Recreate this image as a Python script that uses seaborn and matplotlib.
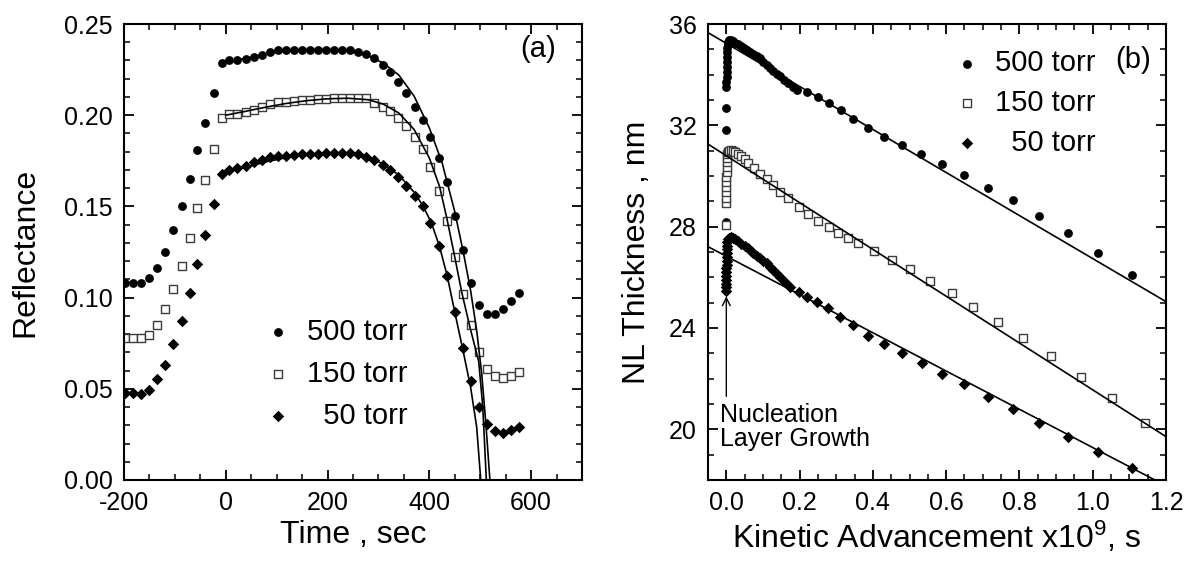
import matplotlib
matplotlib.use("Agg")
import matplotlib.pyplot as plt
import seaborn as sns
from matplotlib.ticker import MultipleLocator, FormatStrFormatter

# ---------------- data: panel (a) ----------------
time_s = [-198, -182, -166, -150, -135, -119, -103, -87, -71, -56, -40, -24,
          -8, 7, 23, 39, 55, 71, 86, 102, 118, 134, 150, 165, 181, 197, 213,
          229, 244, 260, 276, 292, 308, 323, 339, 355, 371, 387, 402, 418, 434,
          450, 466, 481, 497, 513, 529, 545, 560, 576]
refl_500 = [0.108, 0.108, 0.108, 0.111, 0.116, 0.125, 0.137, 0.150, 0.165, 0.181, 0.196, 0.212,
            0.2285, 0.2300, 0.2300, 0.2307, 0.2318, 0.2331, 0.2344, 0.2355, 0.2360, 0.2357,
            0.2357, 0.2358, 0.2360, 0.2360, 0.2360, 0.2358, 0.2356, 0.2349, 0.2335, 0.2312,
            0.2276, 0.2239, 0.2184, 0.2120, 0.2046, 0.1972, 0.1880, 0.1765, 0.1632, 0.1448,
            0.1262, 0.1078, 0.0960, 0.0911, 0.0910, 0.0940, 0.0980, 0.1026]
refl_150 = [0.0778, 0.0778, 0.0778, 0.0796, 0.0851, 0.0938, 0.1048, 0.1173, 0.1329, 0.1491,
            0.1645, 0.1816, 0.1982, 0.2006, 0.2009, 0.2018, 0.2031, 0.2046, 0.2059, 0.2070,
            0.2075, 0.2079, 0.2083, 0.2086, 0.2088, 0.2090, 0.2093, 0.2095, 0.2095, 0.2094,
            0.2092, 0.2068, 0.2046, 0.2022, 0.1982, 0.1941, 0.1880, 0.1813, 0.1715, 0.1587,
            0.1421, 0.1225, 0.1022, 0.0848, 0.0701, 0.0610, 0.0568, 0.0558, 0.0570, 0.0591]
refl_50 = [0.0478, 0.0478, 0.0474, 0.0496, 0.0552, 0.0631, 0.0746, 0.0873, 0.1026, 0.1186,
           0.1344, 0.1513, 0.1678, 0.1702, 0.1711, 0.1724, 0.1743, 0.1756, 0.1770, 0.1776,
           0.1779, 0.1783, 0.1785, 0.1785, 0.1789, 0.1792, 0.1794, 0.1794, 0.1794, 0.1787,
           0.1770, 0.1752, 0.1728, 0.1697, 0.1660, 0.1614, 0.1559, 0.1500, 0.1410, 0.1285,
           0.1120, 0.0921, 0.0722, 0.0543, 0.0400, 0.0308, 0.0266, 0.0255, 0.0273, 0.0289]

fit_t_500 = [0, 40, 80, 120, 160, 200, 240, 280, 310, 340, 370, 400, 425, 450, 467, 481, 493, 503, 511, 519]
fit_r_500 = [0.2292, 0.2312, 0.2336, 0.2352, 0.2360, 0.2361, 0.2352, 0.2325, 0.2285, 0.2220,
             0.2105, 0.1930, 0.1740, 0.1470, 0.1245, 0.1040, 0.0820, 0.0580, 0.0310, 0.0000]
fit_t_150 = [0, 40, 80, 120, 160, 200, 240, 280, 310, 340, 370, 400, 420, 434, 449, 464, 480, 497, 505, 512]
fit_r_150 = [0.2000, 0.2022, 0.2045, 0.2065, 0.2080, 0.2090, 0.2093, 0.2085, 0.2060, 0.2012,
             0.1922, 0.1765, 0.1610, 0.1440, 0.1235, 0.1025, 0.0835, 0.0650, 0.0400, 0.0000]
fit_t_50 = [0, 40, 80, 120, 160, 200, 240, 280, 310, 340, 370, 387, 404, 420, 435, 450, 465, 481, 493, 501]
fit_r_50 = [0.1690, 0.1715, 0.1745, 0.1768, 0.1783, 0.1792, 0.1790, 0.1768, 0.1732, 0.1672,
            0.1578, 0.1505, 0.1410, 0.1280, 0.1120, 0.0920, 0.0725, 0.0510, 0.0290, 0.0000]

# ---------------- data: panel (b) ----------------
k_500 = [0.000, 0.000, 0.000, 0.000, 0.000, 0.000, 0.001, 0.001, 0.001, 0.002, 0.002, 0.003,
         0.003, 0.004, 0.004, 0.006, 0.012, 0.018, 0.025, 0.032, 0.040, 0.048, 0.056, 0.065,
         0.074, 0.083, 0.092, 0.101, 0.110, 0.119, 0.128, 0.137, 0.146, 0.157, 0.169, 0.181,
         0.194, 0.221, 0.251, 0.281, 0.312, 0.345, 0.388, 0.431, 0.480, 0.531, 0.589, 0.650,
         0.713, 0.782, 0.854, 0.933, 1.015, 1.106]
nl_500 = [28.20, 29.15, 31.80, 32.67, 33.50, 33.70, 33.90, 34.10, 34.30, 34.50, 34.70, 34.90,
          35.05, 35.20, 35.30, 35.35, 35.36, 35.33, 35.27, 35.21, 35.14, 35.06, 34.98, 34.91,
          34.82, 34.74, 34.65, 34.52, 34.39, 34.25, 34.14, 34.03, 33.93, 33.79, 33.66, 33.52,
          33.40, 33.30, 33.10, 32.87, 32.60, 32.25, 31.88, 31.55, 31.22, 30.86, 30.47, 30.04,
          29.54, 29.05, 28.42, 27.74, 26.97, 26.09]
k_150 = [0.000, 0.000, 0.000, 0.000, 0.000, 0.000, 0.000, 0.001, 0.001, 0.002, 0.002, 0.003,
         0.004, 0.006, 0.012, 0.018, 0.025, 0.033, 0.041, 0.050, 0.060, 0.0755, 0.092, 0.110,
         0.128, 0.147, 0.169, 0.197, 0.224, 0.251, 0.279, 0.306, 0.333, 0.360, 0.403, 0.451,
         0.501, 0.556, 0.615, 0.674, 0.741, 0.811, 0.886, 0.967, 1.053, 1.143]
nl_150 = [28.07, 28.95, 29.15, 29.35, 29.55, 29.75, 29.95, 30.15, 30.35, 30.55, 30.70, 30.85,
          30.95, 31.00, 31.02, 31.00, 30.95, 30.88, 30.78, 30.66, 30.53, 30.30, 30.08, 29.87,
          29.64, 29.38, 29.12, 28.79, 28.49, 28.22, 27.97, 27.76, 27.56, 27.37, 27.05, 26.68,
          26.32, 25.87, 25.37, 24.84, 24.25, 23.62, 22.89, 22.08, 21.22, 20.24]
k_50 = [0.000, 0.000, 0.000, 0.000, 0.000, 0.000, 0.000, 0.001, 0.001, 0.001, 0.002, 0.002,
        0.003, 0.003, 0.004, 0.006, 0.012, 0.018, 0.025, 0.033, 0.041, 0.050, 0.058, 0.066,
        0.074, 0.083, 0.092, 0.101, 0.110, 0.119, 0.128, 0.137, 0.146, 0.160, 0.174, 0.197,
        0.219, 0.247, 0.278, 0.310, 0.345, 0.388, 0.431, 0.480, 0.533, 0.589, 0.650, 0.713,
        0.782, 0.854, 0.933, 1.015, 1.106]
nl_50 = [25.45, 25.60, 25.75, 25.90, 26.05, 26.20, 26.35, 26.50, 26.65, 26.80, 26.95, 27.10,
         27.25, 27.40, 27.50, 27.56, 27.58, 27.56, 27.50, 27.42, 27.33, 27.23, 27.14, 27.05,
         26.95, 26.86, 26.75, 26.65, 26.55, 26.42, 26.29, 26.15, 26.02, 25.80, 25.60, 25.43,
         25.23, 25.04, 24.78, 24.45, 24.10, 23.68, 23.36, 23.00, 22.60, 22.18, 21.78, 21.29,
         20.79, 20.26, 19.71, 19.09, 18.46]

fit_k = [-0.05, 1.2]
fit_nl_500 = [35.66, 25.04]
fit_nl_150 = [31.26, 19.71]
fit_nl_50 = [27.21, 17.77]

labels = ["500 torr", "150 torr", "  50 torr"]

# ---------------- style ----------------
sns.set_theme(style="ticks")
plt.rcParams["font.family"] = ["Liberation Sans", "DejaVu Sans"]
plt.rcParams["mathtext.fontset"] = "custom"
plt.rcParams["mathtext.rm"] = "Liberation Sans"
plt.rcParams["mathtext.it"] = "Liberation Sans:italic"
plt.rcParams["mathtext.default"] = "regular"
plt.rcParams["axes.unicode_minus"] = False
for key in ["text.color", "axes.labelcolor", "xtick.color", "ytick.color",
            "xtick.labelcolor", "ytick.labelcolor", "axes.edgecolor"]:
    plt.rcParams[key] = "black"

fig = plt.figure(figsize=(11.86, 5.61), dpi=100)
ax1 = fig.add_axes([0.10455, 0.1444, 0.3862, 0.8128])
ax2 = fig.add_axes([0.59696, 0.1444, 0.3862, 0.8128])

LABEL_FS = 23
TICK_FS = 18
LEG_FS = 21


def style_axes(ax):
    for sp in ax.spines.values():
        sp.set_linewidth(1.5)
        sp.set_color("black")
        sp.set_visible(True)
    ax.tick_params(which="both", direction="in", top=True, right=True,
                   colors="black", labelcolor="black", labelsize=TICK_FS, pad=8)
    ax.tick_params(which="major", length=7, width=1.3)
    ax.tick_params(which="minor", length=4, width=1.1)
    ax.grid(False)


def draw_points(ax, x, y, kind, label):
    if kind == "o":
        sns.scatterplot(x=x, y=y, ax=ax, marker="o", s=40, color="black",
                        edgecolor="black", linewidth=0, label=label, zorder=2)
    elif kind == "s":
        sns.scatterplot(x=x, y=y, ax=ax, marker="s", s=32, color="white",
                        edgecolor="#3c3c3c", linewidth=1.0, label=label, zorder=2)
        coll = ax.collections[-1]
        coll.set_facecolor("white")
        coll.set_edgecolor("#3c3c3c")
    else:
        sns.scatterplot(x=x, y=y, ax=ax, marker="D", s=34, color="black",
                        edgecolor="black", linewidth=0, label=label, zorder=2)
    return ax.collections[-1]


# ---------------- panel (a) ----------------
h1 = draw_points(ax1, time_s, refl_500, "o", labels[0])
h2 = draw_points(ax1, time_s, refl_150, "s", labels[1])
h3 = draw_points(ax1, time_s, refl_50, "D", labels[2])
for ft, fr in [(fit_t_500, fit_r_500), (fit_t_150, fit_r_150), (fit_t_50, fit_r_50)]:
    sns.lineplot(x=ft, y=fr, ax=ax1, color="black", linewidth=1.2, sort=False,
                 estimator=None, legend=False, zorder=3)

ax1.set_xlim(-200, 700)
ax1.set_ylim(0.0, 0.25)
ax1.xaxis.set_major_locator(MultipleLocator(200))
ax1.xaxis.set_minor_locator(MultipleLocator(50))
ax1.yaxis.set_major_locator(MultipleLocator(0.05))
ax1.yaxis.set_minor_locator(MultipleLocator(0.01))
ax1.yaxis.set_major_formatter(FormatStrFormatter("%.2f"))
style_axes(ax1)
ax1.set_xlabel("Time , sec", fontsize=LABEL_FS)
ax1.set_ylabel("Reflectance", fontsize=LABEL_FS)
ax1.xaxis.set_label_coords(0.5, -0.088)
ax1.yaxis.set_label_coords(-0.183, 0.5)
ax1.legend(handles=[h1, h2, h3], labels=labels, loc="center left",
           bbox_to_anchor=(0.305, 0.2325), frameon=False, fontsize=LEG_FS,
           borderpad=0, borderaxespad=0, handlelength=1.0, handletextpad=0.5,
           labelspacing=0.48, scatterpoints=1)
ax1.text(0.904, 0.945, "(a)", transform=ax1.transAxes, fontsize=LEG_FS,
         ha="center", va="center")

# ---------------- panel (b) ----------------
g1 = draw_points(ax2, k_500, nl_500, "o", labels[0])
g2 = draw_points(ax2, k_150, nl_150, "s", labels[1])
g3 = draw_points(ax2, k_50, nl_50, "D", labels[2])
for fy in [fit_nl_500, fit_nl_150, fit_nl_50]:
    sns.lineplot(x=fit_k, y=fy, ax=ax2, color="black", linewidth=1.2, sort=False,
                 estimator=None, legend=False, zorder=3)

ax2.set_xlim(-0.05, 1.2)
ax2.set_ylim(18, 36)
ax2.xaxis.set_major_locator(MultipleLocator(0.2))
ax2.xaxis.set_minor_locator(MultipleLocator(0.05))
ax2.yaxis.set_major_locator(MultipleLocator(4))
ax2.yaxis.set_minor_locator(MultipleLocator(1))
ax2.xaxis.set_major_formatter(FormatStrFormatter("%.1f"))
style_axes(ax2)
ax2.set_xlabel(r"Kinetic Advancement x10$^{9}$, s", fontsize=LABEL_FS)
ax2.set_ylabel("NL Thickness , nm", fontsize=LABEL_FS)
ax2.xaxis.set_label_coords(0.5, -0.088)
ax2.yaxis.set_label_coords(-0.122, 0.5)
ax2.legend(handles=[g1, g2, g3], labels=labels, loc="center left",
           bbox_to_anchor=(0.534, 0.827), frameon=False, fontsize=LEG_FS,
           borderpad=0, borderaxespad=0, handlelength=1.0, handletextpad=0.45,
           labelspacing=0.40, scatterpoints=1)
ax2.text(0.928, 0.92, "(b)", transform=ax2.transAxes, fontsize=LEG_FS,
         ha="center", va="center")
ax2.annotate("", xy=(0.0, 25.25), xytext=(0.0, 21.3),
             arrowprops=dict(arrowstyle="->", color="black", lw=1.0,
                             shrinkA=0, shrinkB=0, mutation_scale=14))
ax2.text(-0.017, 20.1, "Nucleation\nLayer Growth", fontsize=18, ha="left",
         va="center", linespacing=1.0)

fig.savefig("out.png", dpi=100)
